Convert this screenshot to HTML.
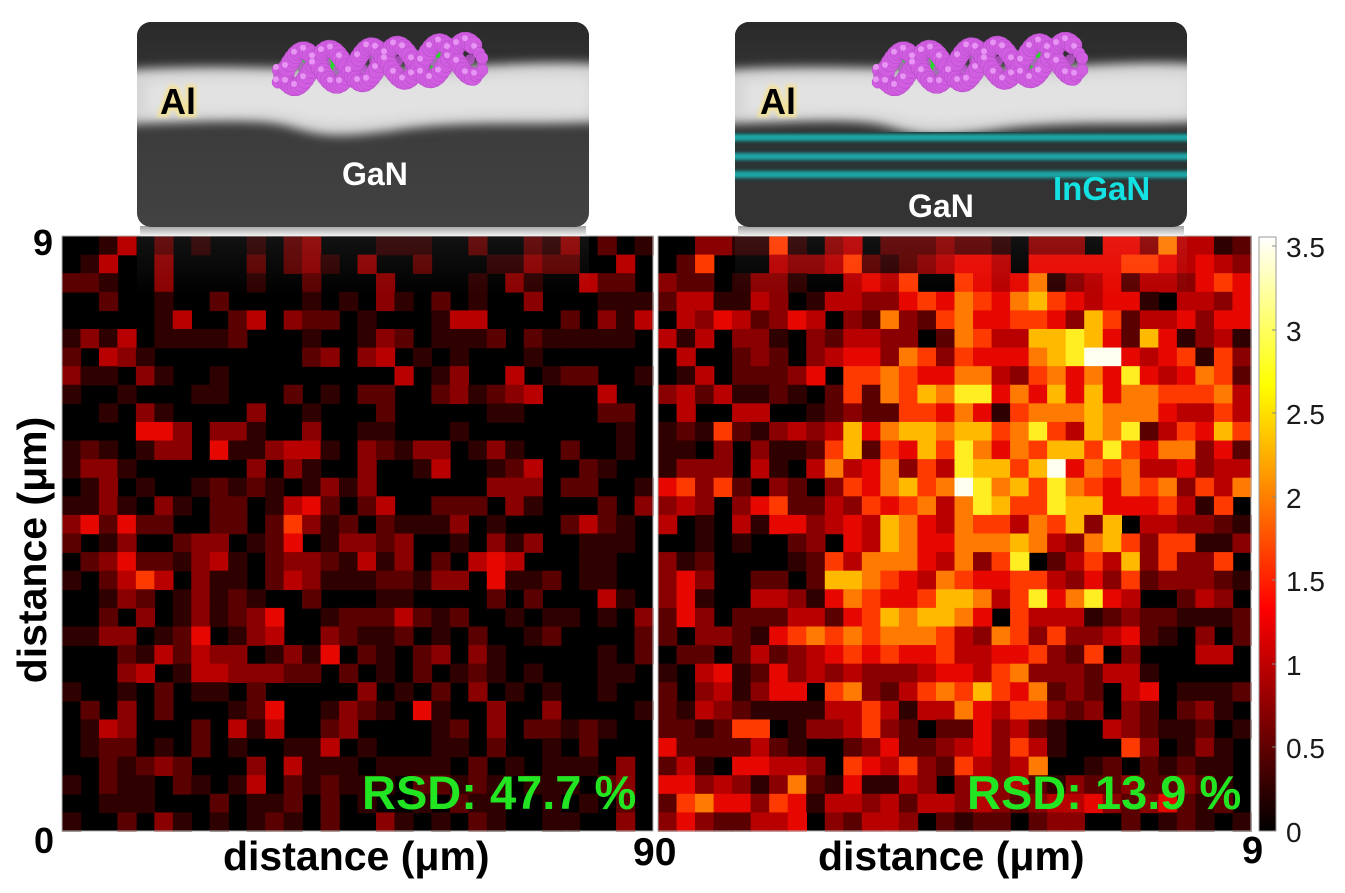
<!DOCTYPE html>
<html><head><meta charset="utf-8">
<style>
html,body{margin:0;padding:0;background:#fff;}
body{width:1345px;height:893px;overflow:hidden;position:relative;}
#main{position:absolute;left:0;top:0;}
text{font-family:"Liberation Sans",Arial,sans-serif;}
</style></head>
<body>
<svg id="main" width="1345" height="893" viewBox="0 0 1345 893" xmlns="http://www.w3.org/2000/svg">
<defs>
 <linearGradient id="cb" x1="0" y1="1" x2="0" y2="0">
  <stop offset="0" stop-color="#000"/>
  <stop offset="0.375" stop-color="#f00"/>
  <stop offset="0.75" stop-color="#ff0"/>
  <stop offset="1" stop-color="#fff"/>
 </linearGradient>
 <linearGradient id="shadow" x1="0" y1="0" x2="0" y2="1">
  <stop offset="0" stop-color="#a0a0a0"/>
  <stop offset="1" stop-color="#f2f2f2"/>
 </linearGradient>
 <linearGradient id="refl" x1="0" y1="0" x2="0" y2="1">
  <stop offset="0" stop-color="#fff" stop-opacity="0.07"/>
  <stop offset="1" stop-color="#fff" stop-opacity="0"/>
 </linearGradient>
 <linearGradient id="topdark" x1="0" y1="0" x2="0" y2="1">
  <stop offset="0" stop-color="#2a2a2a"/>
  <stop offset="1" stop-color="#333"/>
 </linearGradient>
 <linearGradient id="botdark" x1="0" y1="0" x2="0" y2="1">
  <stop offset="0" stop-color="#353535"/>
  <stop offset="1" stop-color="#424242"/>
 </linearGradient>
 <filter id="b5" x="-10%" y="-60%" width="120%" height="220%"><feGaussianBlur stdDeviation="5"/></filter>
 <filter id="b2" x="-10%" y="-100%" width="120%" height="300%"><feGaussianBlur stdDeviation="1.6"/></filter>
 <filter id="glow" x="-30%" y="-30%" width="160%" height="160%"><feGaussianBlur stdDeviation="1.8"/></filter>
 <clipPath id="c1"><rect x="137" y="22" width="452" height="205" rx="14"/></clipPath>
 <clipPath id="c2"><rect x="735" y="22" width="452" height="205" rx="14"/></clipPath>
</defs>

<!-- heatmaps -->
<rect x="62" y="236" width="591" height="595" fill="#000"/>
<rect x="658" y="236" width="593" height="595" fill="#000"/>
<g id="hmL" transform="translate(62,236) scale(18.469,18.594)"></g>
<g id="hmR" transform="translate(658,236) scale(18.531,18.594)"></g>
<rect x="62" y="236" width="591" height="595" fill="none" stroke="#b0b0b0" stroke-width="1"/>
<rect x="658" y="236" width="593" height="595" fill="none" stroke="#b0b0b0" stroke-width="1"/>

<!-- reflections / shadows -->
<rect x="137" y="236" width="452" height="60" fill="url(#refl)"/>
<rect x="735" y="236" width="452" height="60" fill="url(#refl)"/>
<rect x="140" y="226" width="446" height="10" fill="url(#shadow)"/>
<rect x="738" y="226" width="446" height="10" fill="url(#shadow)"/>

<!-- left image -->
<g clip-path="url(#c1)">
 <g transform="translate(137,22)">
  <rect x="0" y="0" width="452" height="205" fill="url(#botdark)"/>
  <rect x="0" y="0" width="452" height="60" fill="url(#topdark)"/>
  <path d="M-10,48 C100,40 200,52 300,46 S420,40 462,42 L462,100 C400,104 330,98 260,108 S180,112 150,104 S60,100 -10,102 Z" fill="#d6d6d6" filter="url(#b5)"/>
  <path d="M10,60 C100,54 200,62 300,58 S420,54 452,56 L452,90 C400,92 330,88 260,96 S180,98 150,92 S60,90 10,92 Z" fill="#e2e2e2" filter="url(#b5)"/>
 </g>
 <g id="dnaL"></g>
</g>
<!-- right image -->
<g clip-path="url(#c2)">
 <g transform="translate(735,22)">
  <rect x="0" y="0" width="452" height="205" fill="#333"/>
  <rect x="0" y="0" width="452" height="60" fill="url(#topdark)"/>
  <path d="M-10,48 C100,40 200,52 300,46 S420,40 462,42 L462,100 C400,104 330,98 260,108 S180,112 150,104 S60,100 -10,102 Z" fill="#d6d6d6" filter="url(#b5)"/>
  <path d="M10,60 C100,54 200,62 300,58 S420,54 452,56 L452,90 C400,92 330,88 260,96 S180,98 150,92 S60,90 10,92 Z" fill="#e2e2e2" filter="url(#b5)"/>
  <rect x="0" y="110" width="452" height="50" fill="#2b3333"/>
  <rect x="-10" y="112" width="472" height="7" fill="#1fa7a7" filter="url(#b2)"/>
  <rect x="-10" y="131" width="472" height="7" fill="#1fa7a7" filter="url(#b2)"/>
  <rect x="-10" y="149" width="472" height="7" fill="#1fa7a7" filter="url(#b2)"/>
 </g>
 <g id="dnaR"></g>
</g>

<!-- image labels -->
<g font-weight="bold">
 <text x="160" y="114" font-size="36" fill="none" stroke="#f2e19a" stroke-width="6" filter="url(#glow)">Al</text>
 <text x="160" y="114" font-size="36" fill="#000">Al</text>
 <text x="760" y="114" font-size="36" fill="none" stroke="#f2e19a" stroke-width="6" filter="url(#glow)">Al</text>
 <text x="760" y="114" font-size="36" fill="#000">Al</text>
 <text x="342" y="185" font-size="32" fill="#fff">GaN</text>
 <text x="908" y="217" font-size="32" fill="#fff">GaN</text>
 <text x="1053" y="200" font-size="33" fill="#14e2e2">InGaN</text>
</g>

<!-- colorbar -->
<rect x="1259" y="237" width="17" height="594" fill="url(#cb)" stroke="#999" stroke-width="1"/>
<g stroke="#888" stroke-width="1">
 <line x1="1272" y1="246" x2="1276" y2="246"/>
 <line x1="1272" y1="330" x2="1276" y2="330"/>
 <line x1="1272" y1="413" x2="1276" y2="413"/>
 <line x1="1272" y1="497" x2="1276" y2="497"/>
 <line x1="1272" y1="580" x2="1276" y2="580"/>
 <line x1="1272" y1="664" x2="1276" y2="664"/>
 <line x1="1272" y1="747" x2="1276" y2="747"/>
</g>
<g font-size="28" fill="#1a1a1a">
 <text x="1286" y="257">3.5</text>
 <text x="1286" y="341">3</text>
 <text x="1286" y="424">2.5</text>
 <text x="1286" y="508">2</text>
 <text x="1286" y="591">1.5</text>
 <text x="1286" y="675">1</text>
 <text x="1286" y="758">0.5</text>
 <text x="1286" y="842">0</text>
</g>

<!-- axis labels -->
<g font-weight="bold" fill="#000">
 <text x="53" y="255" font-size="36" text-anchor="end">9</text>
 <text x="54" y="853" font-size="36" text-anchor="end">0</text>
 <text x="633" y="865" font-size="39">90</text>
 <text x="1242" y="863" font-size="38">9</text>
 <text x="223" y="870" font-size="41">distance (μm)</text>
 <text x="818" y="870" font-size="41">distance (μm)</text>
 <text x="0" y="0" font-size="41" text-anchor="middle" transform="translate(46,550) rotate(-90)">distance (μm)</text>
</g>

<!-- RSD -->
<g font-weight="bold" font-size="47" fill="#22e622">
 <text x="362" y="809">RSD: 47.7 %</text>
 <text x="967" y="809">RSD: 13.9 %</text>
</g>
</svg>

<script>
var pal={'0':'#000000','1':'#2e0000','2':'#5a0000','3':'#8a0000','4':'#b80000','5':'#e60800','6':'#ff3a00','7':'#ff7a00','8':'#ffba00','9':'#ffee22','A':'#fffff0'};
var L=[
"00140201 00102300 01110020 02130201",
"01400300 00202310 30020001 13220040",
"22100300 00100200 03000010 31004220",
"00200100 20000101 03102010 03000111",
"00000140 02403220 10001440 00020314",
"13140111 12000100 13201112 02111110",
"20431000 00000230 34010100 01000000",
"31103100 10000000 00401300 40122001",
"10010001 10002010 22002312 34000400",
"00103100 00300100 02000001 10000220",
"00005530 33100300 11000100 00000010",
"12101330 51134410 32133013 10020010",
"13310000 00303100 30014001 24002100",
"01301001 21210131 30000003 33022001",
"11310310 22014520 24002220 31000203",
"35252200 22026312 02111301 00024210",
"20130023 30125013 32300103 13001110",
"02352213 41023321 41302045 40001100",
"10246403 11024311 12213305 11201100",
"00132013 12100200 01100002 02000410",
"00203013 12350012 22421200 10110103",
"11330125 01340032 11201020 01200002",
"00021424 33013150 21023031 00000102",
"00034014 43332202 01020121 01000110",
"10010201 10200000 30102030 10100100",
"02030200 01250013 21051003 00300001",
"01430002 04140023 00001203 02212100",
"01220102 01001140 10001102 00102000",
"00212320 00304111 01111020 10111030",
"10211021 01402121 11022121 01110230",
"00111000 20112020 10010211 00101020",
"10020310 10121020 03101021 00110030"];
var R=[
"00331161 03402223 22103330 55374412",
"02600043 34621234 55405555 56654543",
"32201331 00454600 65457134 52443565",
"24411430 14433565 76578654 55104435",
"04354235 40327326 75566538 62445355",
"41403310 32443302 76448898 52851341",
"04002320 34553763 6555789A A5456163",
"01402223 50667655 77436757 59545762",
"34241121 02627687 99575858 57766674",
"04004400 12322665 75167778 77754464",
"12162134 34857887 88679648 79246586",
"11030311 26826586 97576886 96577352",
"13330410 47457364 98868A57 67445344",
"56362032 03657867 A9786976 57673647",
"34303562 24365674 79866988 55564160",
"40104155 34548754 76647683 80443321",
"00101002 30548755 77787437 86366113",
"31200001 26477754 73690246 48363360",
"35300220 28876547 65566435 36233321",
"35100443 15765568 87469579 54002430",
"25302224 42568788 75064441 23221112",
"20332156 76767776 43763633 45210302",
"02202423 45656556 44556326 03000440",
"10451253 43433345 54673332 44100000",
"20341355 06732467 68657232 04501112",
"21432111 14464144 75466323 03202310",
"22126601 33463202 25342100 43211201",
"52222421 00235223 45364100 06301310",
"24105544 30654632 64347001 20212110",
"55343137 21511430 34342132 23223210",
"26755365 14434244 34323445 32352120",
"35322445 03244302 12202330 02012101"];
function draw(id,rows){
  var g=document.getElementById(id);var s='';
  for(var i=0;i<rows.length;i++){
    var r=rows[i].replace(/ /g,'');
    for(var j=0;j<32;j++){
      var c=pal[r.charAt(j)]||'#000';
      if(c==='#000000')continue;
      s+='<rect x="'+j+'" y="'+i+'" width="1.04" height="1.04" fill="'+c+'"/>';
    }
  }
  g.innerHTML=s;
}
draw('hmL',L);draw('hmR',R);
function dna(id,x0){
  var Lw=204,P=68,g='',s='',h='',m='';
  for(var x=0;x<=Lw;x+=3){
    var cy=70-12*x/Lw;
    var a=2*Math.PI*x/P;
    var y1=cy+18*Math.sin(a),y2=cy+18*Math.sin(a+2.4);
    if(((x>22&&x<62)||(x>90&&x<118)||(x>152&&x<186))&&(x%6===0)){
      g+='<line x1="'+(x0+x)+'" y1="'+y1.toFixed(1)+'" x2="'+(x0+x)+'" y2="'+y2.toFixed(1)+'" stroke="#22dd22" stroke-width="6"/>';
    }
    var r=(x<8||x>Lw-8)?6:9;
    s+='<circle cx="'+(x0+x)+'" cy="'+y1.toFixed(1)+'" r="'+r+'" fill="#d15ee1" stroke="#b24ac4" stroke-width="0.5"/>';
    s+='<circle cx="'+(x0+x)+'" cy="'+y2.toFixed(1)+'" r="'+r+'" fill="#d15ee1" stroke="#b24ac4" stroke-width="0.5"/>';
    if(x%12===0){
      m+='<circle cx="'+(x0+x)+'" cy="'+((y1+y2)/2).toFixed(1)+'" r="5" fill="#c654d8" opacity="0.8"/>';
    }
    if(x%9===0){
      h+='<circle cx="'+(x0+x-2)+'" cy="'+(y1-3).toFixed(1)+'" r="3" fill="#e894f4"/>';
      h+='<circle cx="'+(x0+x-2)+'" cy="'+(y2-3).toFixed(1)+'" r="3" fill="#e894f4"/>';
    }
  }
  document.getElementById(id).innerHTML=g+m+s+h;
}
dna('dnaL',278);dna('dnaR',878);
</script>
</body></html>
